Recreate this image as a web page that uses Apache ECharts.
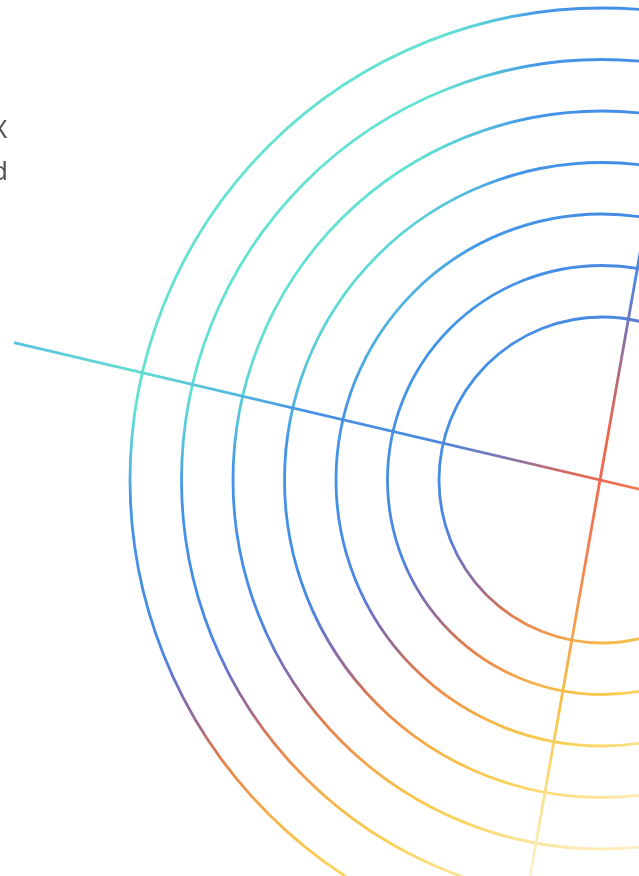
<!DOCTYPE html>
<html>
<head>
<meta charset="utf-8">
<script src="https://cdn.jsdelivr.net/npm/echarts@6/dist/echarts.min.js"></script>
<style>
html,body{margin:0;padding:0;background:#ffffff;overflow:hidden;}
#main{width:639px;height:876px;}
</style>
</head>
<body>
<div id="main"></div>
<script>
// ---- data ----
// concentric rings: radius-axis ticks (one ring per tick)
const ringMin = 0;
const ringMax = 6;
const ringStep = 1;
// the two straight lines through the centre: [radius, angle in degrees]
const crossLineA = [[100, 166.8], [100, 346.8]];
const crossLineB = [[100, 80.0], [100, 260.0]];
// partially visible text at the left edge
const sideTexts = ['X', 'd'];

// ---- styles ----
const ringGradient = {
  type: 'radial', x: 30, y: 0, r: 1100, global: true,
  colorStops: [
    {offset: 0.000, color: '#6ae8d0'},
    {offset: 0.382, color: '#62e0d2'},
    {offset: 0.427, color: '#56c0dc'},
    {offset: 0.464, color: '#4596e8'},
    {offset: 0.545, color: '#448ee6'},
    {offset: 0.609, color: '#4a86e2'},
    {offset: 0.632, color: '#6476cc'},
    {offset: 0.655, color: '#866ca8'},
    {offset: 0.677, color: '#a06c8c'},
    {offset: 0.697, color: '#d07658'},
    {offset: 0.718, color: '#e8844c'},
    {offset: 0.745, color: '#f0984b'},
    {offset: 0.770, color: '#f4b04a'},
    {offset: 0.800, color: '#f6c24a'},
    {offset: 0.840, color: '#f9d45c'},
    {offset: 0.875, color: '#fbe08a'},
    {offset: 0.915, color: '#fdeab2'},
    {offset: 1.000, color: '#fef4d8'}
  ]
};
const lineAGradient = {
  type: 'linear', x: 0, y: 0, x2: 1, y2: 0,
  colorStops: [
    {offset: 0.00, color: '#58c2e0'},
    {offset: 0.10, color: '#62dcd2'},
    {offset: 0.19, color: '#55b8de'},
    {offset: 0.25, color: '#4892e4'},
    {offset: 0.36, color: '#4a88e0'},
    {offset: 0.42, color: '#8076b0'},
    {offset: 0.47, color: '#d46a62'},
    {offset: 0.50, color: '#ee6a4f'},
    {offset: 0.60, color: '#f09a4a'},
    {offset: 0.75, color: '#f8cc48'},
    {offset: 1.00, color: '#fde9a8'}
  ]
};
const lineBGradient = {
  type: 'linear', x: 0, y: 0, x2: 0, y2: 1,
  colorStops: [
    {offset: 0.00, color: '#62dcd2'},
    {offset: 0.20, color: '#4890e4'},
    {offset: 0.33, color: '#4a88e0'},
    {offset: 0.375, color: '#8072b0'},
    {offset: 0.42, color: '#c06a72'},
    {offset: 0.46, color: '#e8694f'},
    {offset: 0.50, color: '#ee6a4f'},
    {offset: 0.58, color: '#f08a4f'},
    {offset: 0.64, color: '#f4a84b'},
    {offset: 0.69, color: '#f7c24c'},
    {offset: 0.74, color: '#fad772'},
    {offset: 0.79, color: '#fce7a6'},
    {offset: 0.84, color: '#fef3d6'},
    {offset: 1.00, color: '#fffaf0'}
  ]
};

const hidden = {axisLine: {show: false}, axisTick: {show: false}, axisLabel: {show: false}};

const chart = echarts.init(document.getElementById('main'), null, {renderer: 'canvas'});
chart.setOption({
  animation: false,
  backgroundColor: '#ffffff',
  polar: [
    {center: [602, 480], radius: [163, 472]},
    {center: [600, 480], radius: [0, 602]}
  ],
  radiusAxis: [
    Object.assign({
      polarIndex: 0, type: 'value', min: ringMin, max: ringMax, interval: ringStep,
      splitLine: {show: true, lineStyle: {width: 2.8, color: ringGradient}}
    }, hidden),
    Object.assign({
      polarIndex: 1, type: 'value', min: 0, max: 100,
      splitLine: {show: false}
    }, hidden)
  ],
  angleAxis: [
    Object.assign({polarIndex: 0, type: 'value', min: 0, max: 360, splitLine: {show: false}}, hidden),
    Object.assign({polarIndex: 1, type: 'value', min: 0, max: 360, startAngle: 0, clockwise: false, splitLine: {show: false}}, hidden)
  ],
  series: [
    {type: 'line', coordinateSystem: 'polar', polarIndex: 1, data: crossLineA, symbol: 'none', silent: true, clip: false,
     lineStyle: {width: 2.8, color: lineAGradient}},
    {type: 'line', coordinateSystem: 'polar', polarIndex: 1, data: crossLineB, symbol: 'none', silent: true, clip: false,
     lineStyle: {width: 2.8, color: lineBGradient}}
  ],
  graphic: [
    {type: 'text', x: -8, y: 131, style: {text: sideTexts[0], font: '26px "Noto Sans", sans-serif', fill: '#555555', textVerticalAlign: 'middle'}},
    {type: 'text', x: -8, y: 173, style: {text: sideTexts[1], font: '26px "Noto Sans", sans-serif', fill: '#555555', textVerticalAlign: 'middle'}}
  ]
});
</script>
</body>
</html>
